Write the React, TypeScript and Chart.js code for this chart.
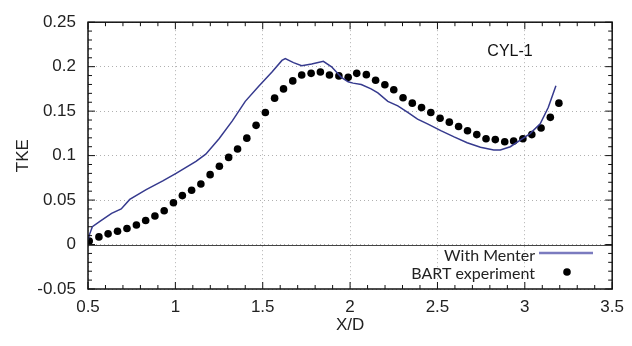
import React, { useEffect, useRef } from "react";
import { Chart, registerables } from "chart.js";

Chart.register(...registerables);

// With Menter (simulation) curve
const menterX = [0.5, 0.51, 0.525, 0.568, 0.635, 0.69, 0.739, 0.833, 0.928, 1.004, 1.118, 1.174, 1.25, 1.326, 1.4, 1.477, 1.553, 1.61, 1.629, 1.676, 1.723, 1.78, 1.847, 1.894, 1.95, 1.989, 2.017, 2.064, 2.12, 2.159, 2.216, 2.273, 2.33, 2.386, 2.443, 2.519, 2.595, 2.67, 2.746, 2.822, 2.86, 2.917, 2.974, 3.03, 3.088, 3.134, 3.178];
const menterY = [0.005, 0.012, 0.02, 0.026, 0.035, 0.04, 0.0507, 0.0617, 0.0716, 0.08, 0.0936, 0.1016, 0.119, 0.139, 0.161, 0.178, 0.194, 0.207, 0.209, 0.2046, 0.201, 0.203, 0.206, 0.1998, 0.188, 0.183, 0.1815, 0.18, 0.175, 0.1705, 0.161, 0.156, 0.1485, 0.141, 0.1357, 0.128, 0.121, 0.1145, 0.1093, 0.1064, 0.1064, 0.11, 0.1174, 0.1247, 0.1357, 0.154, 0.1786];

// BART experiment points
const bartX = [0.507, 0.5625, 0.615, 0.669, 0.723, 0.777, 0.83, 0.883, 0.936, 0.989, 1.04, 1.093, 1.146, 1.199, 1.252, 1.305, 1.356, 1.409, 1.462, 1.515, 1.568, 1.619, 1.672, 1.723, 1.777, 1.83, 1.882, 1.936, 1.989, 2.038, 2.093, 2.146, 2.199, 2.25, 2.303, 2.356, 2.409, 2.462, 2.515, 2.568, 2.621, 2.672, 2.725, 2.778, 2.831, 2.885, 2.936, 2.989, 3.04, 3.093, 3.146, 3.195];
const bartY = [0.004, 0.0086, 0.012, 0.015, 0.018, 0.022, 0.027, 0.032, 0.038, 0.047, 0.055, 0.061, 0.068, 0.0786, 0.088, 0.098, 0.1075, 0.1196, 0.134, 0.1485, 0.1646, 0.175, 0.184, 0.1907, 0.1925, 0.194, 0.1907, 0.1896, 0.188, 0.1925, 0.191, 0.1848, 0.1797, 0.174, 0.165, 0.159, 0.154, 0.1485, 0.142, 0.1376, 0.1328, 0.128, 0.1236, 0.119, 0.118, 0.1156, 0.1163, 0.119, 0.1236, 0.131, 0.143, 0.159];

const xTicks = [0.5, 1, 1.5, 2, 2.5, 3, 3.5];
const yTicks = [-0.05, 0, 0.05, 0.1, 0.15, 0.2, 0.25];
const xTickLabels = ["0.5", "1", "1.5", "2", "2.5", "3", "3.5"];
const yTickLabels = ["-0.05", "0", "0.05", "0.1", "0.15", "0.2", "0.25"];
const seriesNames = ["With Menter", "BART experiment"];
const caseLabel = "CYL-1";

const FONT = "'Liberation Sans', Arial, sans-serif";
const LINE_COLOR = "#363a8e";

export default function App() {
  const ref = useRef<HTMLCanvasElement | null>(null);

  useEffect(() => {
    const canvas = ref.current;
    if (!canvas) return;

    const decor = {
      id: "decor",
      beforeDatasetsDraw(chart: any) {
        const { ctx, chartArea: a, scales } = chart;
        const y0 = scales.y.getPixelForValue(0);
        ctx.save();
        ctx.strokeStyle = "#444";
        ctx.lineWidth = 1;
        ctx.beginPath();
        ctx.moveTo(a.left, Math.round(y0) + 0.5);
        ctx.lineTo(a.right, Math.round(y0) + 0.5);
        ctx.stroke();
        ctx.restore();
      },
      afterDraw(chart: any) {
        const { ctx, chartArea: a, scales } = chart;
        const xs = scales.x;
        const ys = scales.y;
        ctx.save();
        ctx.strokeStyle = "#111";
        ctx.lineWidth = 1.5;
        ctx.strokeRect(a.left, a.top, a.right - a.left, a.bottom - a.top);
        ctx.lineWidth = 1;
        ctx.beginPath();
        // x ticks (minor 0.1, major 0.5)
        for (let i = 5; i <= 35; i++) {
          const v = i / 10;
          const px = xs.getPixelForValue(v);
          const len = i % 5 === 0 ? 7 : 4;
          ctx.moveTo(px, a.bottom);
          ctx.lineTo(px, a.bottom - len);
          ctx.moveTo(px, a.top);
          ctx.lineTo(px, a.top + len);
        }
        // y ticks (minor 0.01, major 0.05)
        for (let i = -5; i <= 25; i++) {
          const v = i / 100;
          const py = ys.getPixelForValue(v);
          const len = (i + 100) % 5 === 0 ? 7 : 4;
          ctx.moveTo(a.left, py);
          ctx.lineTo(a.left + len, py);
          ctx.moveTo(a.right, py);
          ctx.lineTo(a.right - len, py);
        }
        ctx.stroke();

        // case label
        ctx.fillStyle = "#111";
        ctx.font = `16px ${FONT}`;
        ctx.textAlign = "center";
        ctx.textBaseline = "middle";
        ctx.fillText(caseLabel, 510, 52);

        // legend
        ctx.font = "16px Lato, 'Open Sans', sans-serif";
        ctx.textAlign = "right";
        ctx.fillStyle = "#222";
        ctx.fillText(seriesNames[0], 535, 256);
        ctx.fillText(seriesNames[1], 535, 274);
        ctx.strokeStyle = "#7b7bbf";
        ctx.lineWidth = 2.5;
        ctx.beginPath();
        ctx.moveTo(539, 253);
        ctx.lineTo(593, 253);
        ctx.stroke();
        ctx.fillStyle = "#000";
        ctx.beginPath();
        ctx.arc(567, 272, 3.8, 0, Math.PI * 2);
        ctx.fill();
        ctx.restore();
      },
    };

    const chart = new Chart(canvas, {
      type: "scatter",
      data: {
        datasets: [
          {
            label: seriesNames[0],
            data: menterX.map((x, i) => ({ x, y: menterY[i] })),
            showLine: true,
            borderColor: LINE_COLOR,
            borderWidth: 1.5,
            pointRadius: 0,
            tension: 0,
          },
          {
            label: seriesNames[1],
            data: bartX.map((x, i) => ({ x, y: bartY[i] })),
            showLine: false,
            backgroundColor: "#000",
            borderColor: "#000",
            pointRadius: 3.8,
            pointBorderWidth: 0,
          },
        ],
      },
      options: {
        responsive: false,
        animation: false,
        layout: { padding: { top: 16, right: 16, left: 0, bottom: 0 } },
        plugins: { legend: { display: false }, tooltip: { enabled: false } },
        scales: {
          x: {
            type: "linear",
            min: 0.5,
            max: 3.5,
            afterBuildTicks: (s: any) => {
              s.ticks = xTicks.map((v) => ({ value: v }));
            },
            afterFit: (s: any) => {
              s.height = 57;
            },
            ticks: {
              padding: 8,
              color: "#222",
              font: { family: FONT, size: 17 },
              maxRotation: 0,
              callback: (v: any) => {
                const i = xTicks.findIndex((t) => Math.abs(t - v) < 1e-9);
                return i >= 0 ? xTickLabels[i] : "";
              },
            },
            grid: { color: "#b0b0b0", drawTicks: false, lineWidth: 1 },
            border: { display: false, dash: [1, 3] },
            title: {
              display: true,
              text: "X/D",
              color: "#222",
              font: { family: FONT, size: 17 },
              padding: { top: 0, bottom: 10 },
            },
          },
          y: {
            type: "linear",
            min: -0.05,
            max: 0.25,
            afterBuildTicks: (s: any) => {
              s.ticks = yTicks.map((v) => ({ value: v }));
            },
            afterFit: (s: any) => {
              s.width = 88;
            },
            ticks: {
              padding: 12,
              color: "#222",
              font: { family: FONT, size: 17 },
              callback: (v: any) => {
                const i = yTicks.findIndex((t) => Math.abs(t - v) < 1e-9);
                return i >= 0 ? yTickLabels[i] : "";
              },
            },
            grid: { color: "#b0b0b0", drawTicks: false, lineWidth: 1 },
            border: { display: false, dash: [1, 3] },
            title: {
              display: true,
              text: "TKE",
              color: "#222",
              font: { family: FONT, size: 17 },
              padding: { top: 13, bottom: 0 },
            },
          },
        },
      },
      plugins: [decor],
    });
    return () => chart.destroy();
  }, []);

  return (
    <div style={{ position: "absolute", left: 0, top: 0, width: 632, height: 346, background: "#fff" }}>
      <canvas ref={ref} width={632} height={346} style={{ width: 632, height: 346, display: "block" }} />
    </div>
  );
}
